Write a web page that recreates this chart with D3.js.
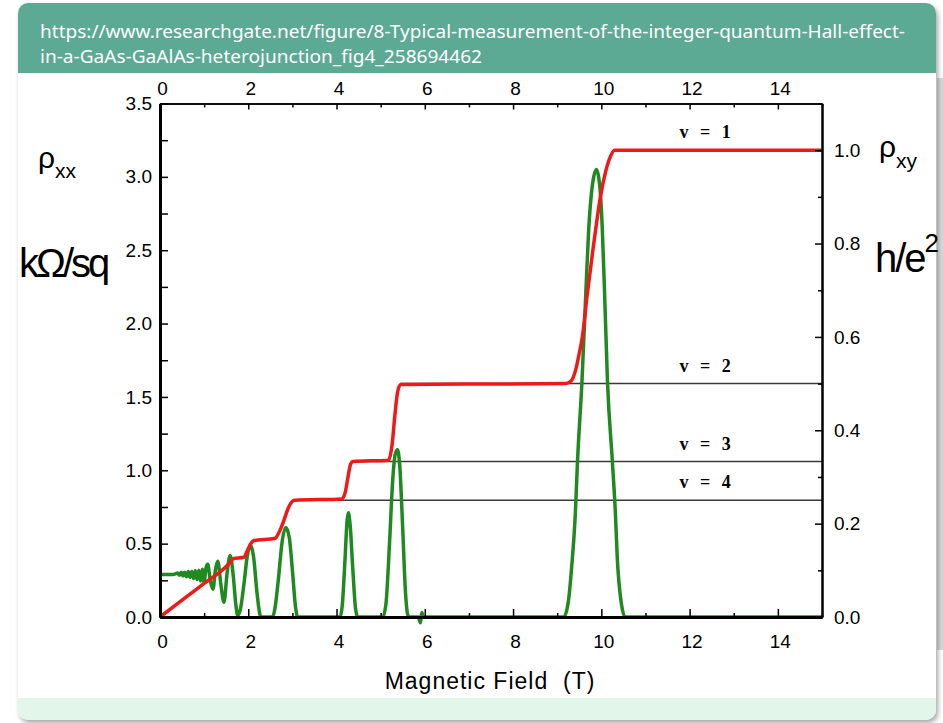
<!DOCTYPE html>
<html>
<head>
<meta charset="utf-8">
<title>Integer quantum Hall effect</title>
<script src="https://d3js.org/d3.v7.min.js"></script>
<style>
  body { margin:0; background:#fff; width:943px; height:723px; overflow:hidden; position:relative; }
  .card { position:absolute; left:18px; top:3px; width:918px; height:717px; background:#fff;
          border-radius:10px; box-shadow:2px 3px 5px rgba(0,0,0,0.35); overflow:hidden; }
  .card .head { position:absolute; left:0; top:0; width:100%; height:70px; background:#5ca994; }
  .card .foot { position:absolute; left:0; bottom:0; width:100%; height:22px; background:#e2f6e9; }
  .strip { position:absolute; left:937px; top:78px; width:6px; height:572px; background:#d8d8d8; }
  #chart { position:absolute; left:0; top:0; }
</style>
</head>
<body>
<div class="strip"></div>
<div class="card"><div class="head"></div><div class="foot"></div></div>
<div id="chart"></div>
<script>
// magnetic field ticks (T)
const fieldMajor = [0, 2, 4, 6, 8, 10, 12, 14];
const fieldMinor = [1, 3, 5, 7, 9, 11, 13, 15];
// rho_xx ticks (kOhm/sq)
const rxxMajor = [0, 0.5, 1.0, 1.5, 2.0, 2.5, 3.0, 3.5];
const rxxMinor = [0.25, 0.75, 1.25, 1.75, 2.25, 2.75, 3.25];
// rho_xy ticks (h/e^2)
const rxyMajor = [0, 0.2, 0.4, 0.6, 0.8, 1.0];
const rxyMinor = [0.1, 0.3, 0.5, 0.7, 0.9, 1.1];

// rho_xx trace, [B, kOhm/sq]
const rhoXX = [
  [0, 0.29], [0.1, 0.29], [0.2, 0.29], [0.3, 0.29], [0.36, 0.295],
  [0.40, 0.300], [0.44, 0.285], [0.48, 0.305], [0.52, 0.280], [0.56, 0.305],
  [0.60, 0.275], [0.64, 0.310], [0.68, 0.270], [0.72, 0.310], [0.76, 0.262],
  [0.80, 0.315], [0.84, 0.255], [0.88, 0.318], [0.92, 0.245], [0.96, 0.325],
  [1.00, 0.235], [1.04, 0.33], [1.08, 0.36], [1.14, 0.25], [1.20, 0.19],
  [1.26, 0.33], [1.31, 0.38], [1.38, 0.22], [1.45, 0.10], [1.52, 0.30],
  [1.59, 0.42], [1.66, 0.28], [1.72, 0.08], [1.76, 0.01], [1.82, 0.05],
  [1.90, 0.22], [1.98, 0.42], [2.05, 0.49], [2.12, 0.41], [2.20, 0.16],
  [2.27, 0.01], [2.30, 0], [2.55, 0], [2.60, 0.05], [2.68, 0.25],
  [2.77, 0.52], [2.85, 0.61], [2.93, 0.54], [3.00, 0.32], [3.07, 0.07],
  [3.12, 0], [4.08, 0], [4.13, 0.08], [4.19, 0.38], [4.24, 0.66],
  [4.27, 0.71], [4.31, 0.62], [4.37, 0.32], [4.43, 0.06], [4.48, 0],
  [5.05, 0], [5.12, 0.09], [5.20, 0.50], [5.27, 0.92], [5.33, 1.11],
  [5.38, 1.14], [5.43, 1.04], [5.50, 0.60], [5.56, 0.18], [5.62, 0.01],
  [5.66, 0], [5.85, 0], [5.90, -0.04], [5.93, 0.03], [5.97, 0],
  [9.15, 0], [9.25, 0.10], [9.33, 0.35], [9.41, 0.70], [9.46, 1.06],
  [9.56, 1.60], [9.64, 2.15], [9.71, 2.62], [9.80, 2.95], [9.89, 3.05],
  [9.96, 2.95], [10.02, 2.66], [10.08, 2.15], [10.14, 1.60], [10.25, 1.06],
  [10.32, 0.70], [10.36, 0.41], [10.45, 0.10], [10.54, 0], [15, 0]
];

// rho_xy trace, [B, h/e^2]
const rhoXY = [
  [0, 0], [0.5, 0.036], [1.0, 0.072], [1.5, 0.108], [1.6, 0.118], [1.66, 0.125],
  [1.9, 0.128], [1.97, 0.14], [2.05, 0.156], [2.13, 0.164], [2.6, 0.168],
  [2.7, 0.182], [2.8, 0.205], [2.9, 0.232], [3.0, 0.248], [3.05, 0.25],
  [4.12, 0.253], [4.2, 0.268], [4.26, 0.30], [4.32, 0.328], [4.37, 0.333],
  [5.18, 0.336], [5.26, 0.37], [5.32, 0.43], [5.38, 0.48], [5.45, 0.498],
  [9.2, 0.5], [9.32, 0.506], [9.42, 0.53], [9.5, 0.565], [9.57, 0.60],
  [9.68, 0.69], [9.8, 0.78], [9.9, 0.85], [9.98, 0.90], [10.1, 0.955],
  [10.2, 0.985], [10.3, 1.0], [15, 1.0]
];

// filling factors, plateau heights (h/e^2) and where the reference line starts (T)
const nuLabels = ["v = 1", "v = 2", "v = 3", "v = 4"];
const nuPlateau = [1, 0.5, 0.333, 0.25];
const nuLineStart = [null, 5.45, 4.33, 3.03];

const W = 943, H = 723;
const svg = d3.select("#chart").append("svg").attr("width", W).attr("height", H);

// header url
const head = svg.append("g").attr("fill", "#fff")
  .attr("font-family", "'Noto Sans', 'Open Sans', sans-serif").attr("font-size", "18px");
head.append("text").attr("x", 40).attr("y", 38)
  .attr("textLength", 865).attr("lengthAdjust", "spacingAndGlyphs")
  .text("https://www.researchgate.net/figure/8-Typical-measurement-of-the-integer-quantum-Hall-effect-");
head.append("text").attr("x", 40).attr("y", 63)
  .attr("textLength", 442).attr("lengthAdjust", "spacingAndGlyphs")
  .text("in-a-GaAs-GaAlAs-heterojunction_fig4_258694462");

const x = d3.scaleLinear().domain([0, 15]).range([160, 822]);
const yL = d3.scaleLinear().domain([0, 3.5]).range([617, 103.5]);
const yR = d3.scaleLinear().domain([0, 1.1]).range([617, 103.5]);

const font = "'Liberation Sans', Arial, sans-serif";
const plot = svg.append("g").attr("font-family", font);

// plateau reference lines
nuPlateau.forEach(function(v, i) {
  if (nuLineStart[i] === null) return;
  plot.append("line")
    .attr("x1", x(nuLineStart[i])).attr("x2", x(15))
    .attr("y1", yR(v)).attr("y2", yR(v))
    .attr("stroke", "#3a3a3a").attr("stroke-width", 1.5);
});

// curves
plot.append("path").datum(rhoXX)
  .attr("fill", "none").attr("stroke", "#1f8a1f").attr("stroke-width", 3.5)
  .attr("stroke-linejoin", "round")
  .attr("d", d3.line().x(d => x(d[0])).y(d => yL(d[1])).curve(d3.curveMonotoneX));

plot.append("path").datum(rhoXY)
  .attr("fill", "none").attr("stroke", "#f01818").attr("stroke-width", 3.5)
  .attr("stroke-linejoin", "round")
  .attr("d", d3.line().x(d => x(d[0])).y(d => yR(d[1])).curve(d3.curveMonotoneX));

// nu labels
nuLabels.forEach(function(t, i) {
  plot.append("text")
    .attr("x", x(12.35)).attr("y", yR(nuPlateau[i]) - 12)
    .attr("text-anchor", "middle")
    .attr("font-family", "'Liberation Serif', 'Times New Roman', serif")
    .attr("font-weight", "bold").attr("font-size", "18px")
    .attr("word-spacing", "7px")
    .text(t);
});

// axes
function styleAxis(g, width) {
  g.select(".domain").attr("stroke", "#000").attr("stroke-width", width);
  g.selectAll(".tick line").attr("stroke", "#000").attr("stroke-width", 1.5);
  g.selectAll("text").attr("font-family", font).attr("font-size", "19px").attr("fill", "#000");
}

// bottom
plot.append("g").attr("transform", "translate(0," + yL(0) + ")")
  .call(d3.axisBottom(x).tickValues(fieldMinor).tickSizeInner(-4).tickSizeOuter(0).tickFormat(""))
  .call(g => styleAxis(g, 3));
plot.append("g").attr("transform", "translate(0," + yL(0) + ")")
  .call(d3.axisBottom(x).tickValues(fieldMajor).tickSizeInner(-8).tickSizeOuter(0).tickPadding(18).tickFormat(d3.format("d")))
  .call(g => styleAxis(g, 3))
  .call(g => g.selectAll("text").attr("dx", 2));

// top
plot.append("g").attr("transform", "translate(0," + yL(3.5) + ")")
  .call(d3.axisTop(x).tickValues(fieldMinor).tickSizeInner(-4).tickSizeOuter(0).tickFormat(""))
  .call(g => styleAxis(g, 1.5));
plot.append("g").attr("transform", "translate(0," + yL(3.5) + ")")
  .call(d3.axisTop(x).tickValues(fieldMajor).tickSizeInner(-6).tickSizeOuter(0).tickPadding(9).tickFormat(d3.format("d")))
  .call(g => styleAxis(g, 1.5))
  .call(g => g.selectAll("text").attr("dx", 2));

// left
plot.append("g").attr("transform", "translate(" + x(0) + ",0)")
  .call(d3.axisLeft(yL).tickValues(rxxMinor).tickSizeInner(-8).tickSizeOuter(0).tickFormat(""))
  .call(g => styleAxis(g, 3));
plot.append("g").attr("transform", "translate(" + x(0) + ",0)")
  .call(d3.axisLeft(yL).tickValues(rxxMajor).tickSizeInner(-8).tickSizeOuter(0).tickPadding(8).tickFormat(d3.format(".1f")))
  .call(g => styleAxis(g, 3));

// right
plot.append("g").attr("transform", "translate(" + x(15) + ",0)")
  .call(d3.axisRight(yR).tickValues(rxyMinor).tickSizeInner(-4).tickSizeOuter(0).tickFormat(""))
  .call(g => styleAxis(g, 2));
plot.append("g").attr("transform", "translate(" + x(15) + ",0)")
  .call(d3.axisRight(yR).tickValues(rxyMajor).tickSizeInner(-7).tickSizeOuter(0).tickPadding(12).tickFormat(d3.format(".1f")))
  .call(g => styleAxis(g, 2));

// axis titles
plot.append("text")
  .attr("x", 490).attr("y", 689)
  .attr("text-anchor", "middle")
  .attr("font-size", "23px").attr("letter-spacing", "1px")
  .style("white-space", "pre")
  .text("Magnetic Field  (T)");

const rxxT = plot.append("text").attr("x", 38).attr("y", 168).attr("font-size", "30px").text("ρ");
rxxT.append("tspan").attr("font-size", "21px").attr("dy", 10).text("xx");
plot.append("text").attr("x", 19).attr("y", 277)
  .attr("font-size", "40px").attr("letter-spacing", "-3px").text("kΩ/sq");

const rxyT = plot.append("text").attr("x", 879).attr("y", 157).attr("font-size", "30px").text("ρ");
rxyT.append("tspan").attr("font-size", "21px").attr("dy", 11).text("xy");
const heT = plot.append("text").attr("x", 875).attr("y", 272)
  .attr("font-size", "40px").attr("letter-spacing", "-2px").text("h/e");
heT.append("tspan").attr("font-size", "26px").attr("dy", -20).text("2");
</script>
</body>
</html>
